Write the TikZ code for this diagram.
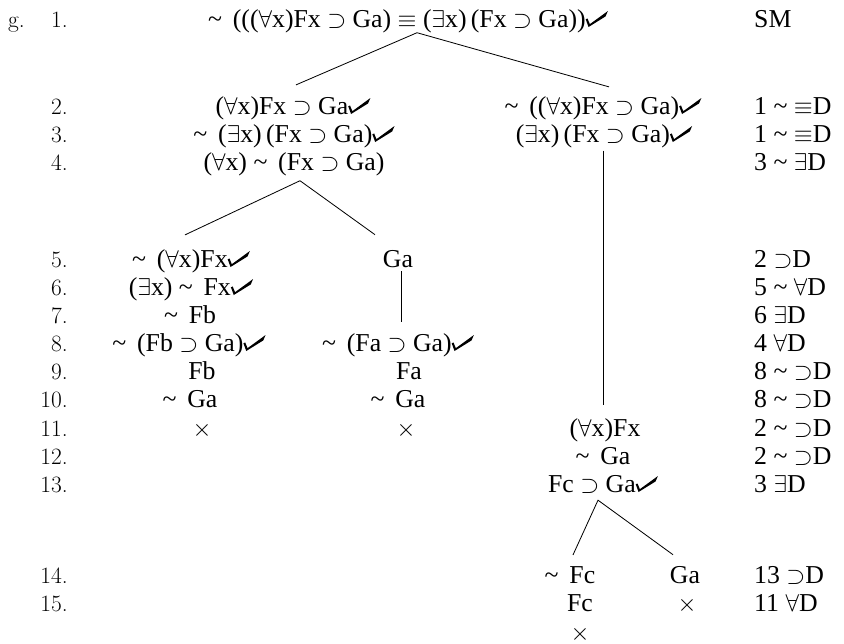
\documentclass[tikz,border=0pt]{standalone}
\usepackage{fontspec}
\newfontfamily\frm{Liberation Serif}
\usetikzlibrary{calc}

% heavy check mark written after discharged lines
\newcommand{\chk}{\tikz[x=1em,y=1em,baseline=0pt]\fill (0.02,0.30) -- (0.09,0.33) -- (0.18,0.11) -- (0.88,0.62) -- (0.79,0.41) -- (0.13,0) -- cycle;}
\newcommand{\tnot}{\textasciitilde\hspace{0.42em}}

\tikzset{
  wff/.style={anchor=base, inner sep=0pt, font=\frm\fontsize{22}{26}\selectfont},
  lnum/.style={anchor=base east, inner sep=0pt, font=\fontsize{20}{24}\selectfont},
  just/.style={anchor=base west, inner sep=0pt, font=\frm\fontsize{22}{26}\selectfont},
  branch/.style={line width=0.7pt}
}

\begin{document}
\begin{tikzpicture}[x=0.03cm, y=-0.03cm]
\useasboundingbox (0,0) rectangle (844,643);

% line numbers
\node[lnum, anchor=base west] (g) at (8,27) {g.};
\foreach \n/\y in {1/27,2/114,3/142,4/170,5/267,6/295,7/323,8/351,9/379,10/407,11/436,12/464,13/492,14/583,15/611}
  \node[lnum] (n\n) at (68,\y) {\n.};

% justifications
\foreach \n/\y/\t in {1/27/SM, 2/114/{1 \textasciitilde\ $\equiv$D}, 3/142/{1 \textasciitilde\ $\equiv$D}, 4/170/{3 \textasciitilde\ $\exists$D},
    5/267/{2 $\supset$D}, 6/295/{5 \textasciitilde\ $\forall$D}, 7/323/{6 $\exists$D}, 8/351/{4 $\forall$D},
    9/379/{8 \textasciitilde\ $\supset$D}, 10/407/{8 \textasciitilde\ $\supset$D}, 11/436/{2 \textasciitilde\ $\supset$D}, 12/464/{2 \textasciitilde\ $\supset$D},
    13/492/{3 $\exists$D}, 14/583/{13 $\supset$D}, 15/611/{11 $\forall$D}}
  \node[just] (j\n) at (754,\y) {\t};

% trunk
\node[wff] (f1) at (408,27) {\tnot((($\forall$x)Fx $\supset$ Ga) $\equiv$ ($\exists$x)\,(Fx $\supset$ Ga))\chk};

% left branch
\node[wff] (f2L) at (293,114) {($\forall$x)Fx $\supset$ Ga\chk};
\node[wff] (f3L) at (294,142) {\tnot($\exists$x)\,(Fx $\supset$ Ga)\chk};
\node[wff] (f4L) at (294,170) {($\forall$x) \tnot(Fx $\supset$ Ga)};
\node[wff] (f5L) at (191,267) {\tnot($\forall$x)Fx\chk};
\node[wff] (f6L) at (191,295) {($\exists$x) \tnot Fx\chk};
\node[wff] (f7L) at (190,323) {\tnot Fb};
\node[wff] (f8L) at (189,351) {\tnot(Fb $\supset$ Ga)\chk};
\node[wff] (f9L) at (202,379) {Fb};
\node[wff] (f10L) at (190,407) {\tnot Ga};
\node[wff] (x11L) at (202,436) {$\times$};

% middle branch
\node[wff] (f5M) at (398,267) {Ga};
\node[wff] (f8M) at (398,351) {\tnot(Fa $\supset$ Ga)\chk};
\node[wff] (f9M) at (409,379) {Fa};
\node[wff] (f10M) at (398,407) {\tnot Ga};
\node[wff] (x11M) at (406,436) {$\times$};

% right branch
\node[wff] (f2R) at (603,114) {\tnot(($\forall$x)Fx $\supset$ Ga)\chk};
\node[wff] (f3R) at (604,142) {($\exists$x)\,(Fx $\supset$ Ga)\chk};
\node[wff] (f11R) at (605,436) {($\forall$x)Fx};
\node[wff] (f12R) at (603,464) {\tnot Ga};
\node[wff] (f13R) at (603,492) {Fc $\supset$ Ga\chk};
\node[wff] (f14R) at (570,583) {\tnot Fc};
\node[wff] (f15R) at (580,611) {Fc};
\node[wff] (x16R) at (580,640) {$\times$};
\node[wff] (f14S) at (685,583) {Ga};
\node[wff] (x15S) at (687,611) {$\times$};

% branches
\draw[branch] ($(f2L.north)+(3,-11)$) -- ($(f1.south)+(9,0)$) -- ($(f2R.north)+(6,-9)$);
\draw[branch] ($(f5L.north)+(-6,-14)$) -- ($(f4L.south)+(6,5)$) -- ($(f5M.north)+(-23,-15)$);
\draw[branch] ($(f5M.south)+(3,4)$) -- ($(f8M.north)+(3,-11)$);
\draw[branch] ($(f3R.south)+(-1,3)$) -- ($(f11R.north)+(-2,-13)$);
\draw[branch] ($(f14R.north)+(3,-11)$) -- ($(f13R.south)+(-5,7)$) -- ($(f14S.north)+(-12,-11)$);

\end{tikzpicture}
\end{document}
